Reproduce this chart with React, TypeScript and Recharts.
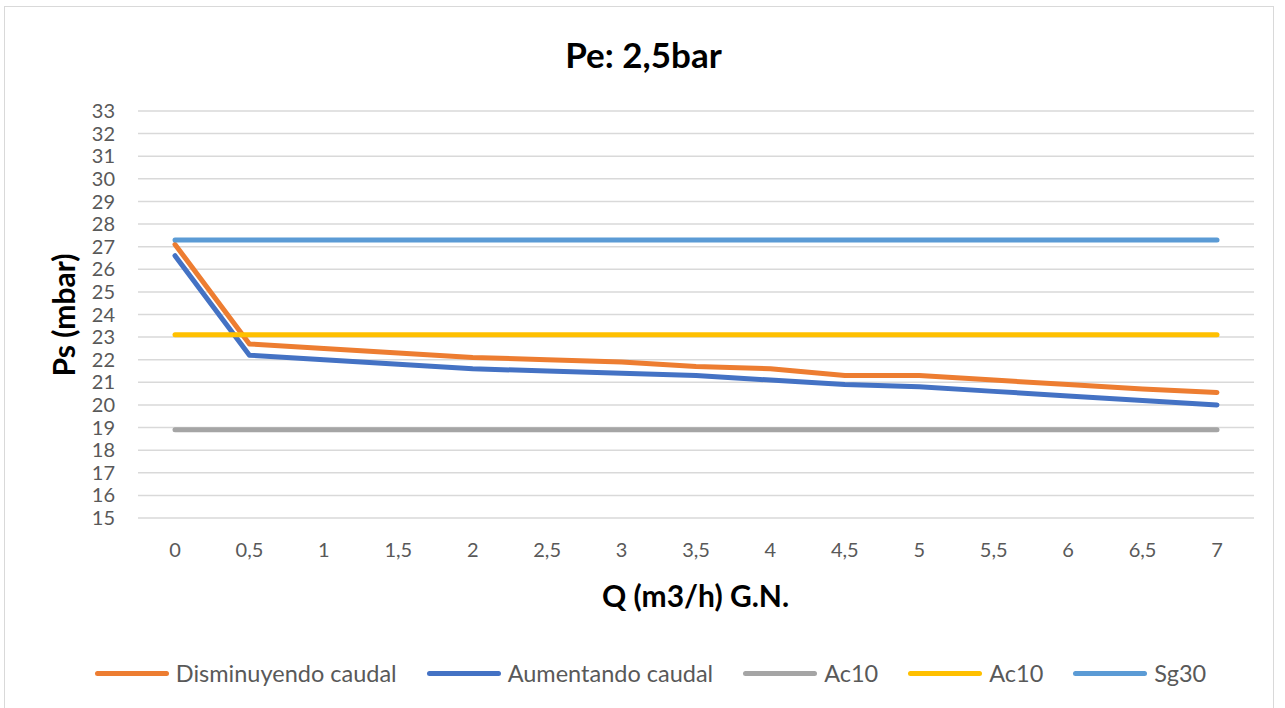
import React from 'react';
import { LineChart, Line, XAxis, YAxis, CartesianGrid } from 'recharts';

const caudales = ['0', '0,5', '1', '1,5', '2', '2,5', '3', '3,5', '4', '4,5', '5', '5,5', '6', '6,5', '7'];
const disminuyendo = [27.1, 22.7, 22.5, 22.3, 22.1, 22.0, 21.9, 21.7, 21.6, 21.3, 21.3, 21.1, 20.9, 20.7, 20.55];
const aumentando = [26.6, 22.2, 22.0, 21.8, 21.6, 21.5, 21.4, 21.3, 21.1, 20.9, 20.8, 20.6, 20.4, 20.2, 20.0];
const ac10Bajo = 18.9;
const ac10Alto = 23.1;
const sg30 = 27.3;
const yTicks = [15, 16, 17, 18, 19, 20, 21, 22, 23, 24, 25, 26, 27, 28, 29, 30, 31, 32, 33];

const data = caudales.map((q, i) => ({
  q,
  dis: disminuyendo[i],
  aum: aumentando[i],
  acBajo: ac10Bajo,
  acAlto: ac10Alto,
  sg: sg30,
}));

// series in legend order
const series = [
  { key: 'dis', name: 'Disminuyendo caudal', color: '#ED7D31' },
  { key: 'aum', name: 'Aumentando caudal', color: '#4472C4' },
  { key: 'acBajo', name: 'Ac10', color: '#A5A5A5' },
  { key: 'acAlto', name: 'Ac10', color: '#FFC000' },
  { key: 'sg', name: 'Sg30', color: '#5B9BD5' },
];

const FONT = 'Lato, "Open Sans", sans-serif';

const LegendRow = () => (
  <div style={{ position: 'absolute', left: 0, width: 1285, top: 657, height: 32, display: 'flex', justifyContent: 'center', alignItems: 'center', fontSize: 23.5, color: '#595959', paddingLeft: 16, boxSizing: 'border-box' }}>
    {series.map((s, i) => (
      <div key={s.key} style={{ display: 'flex', alignItems: 'center', marginRight: i < series.length - 1 ? 30 : 0 }}>
        <span style={{ display: 'inline-block', width: 74, height: 5, borderRadius: 3, background: s.color, marginRight: 7 }} />
        <span>{s.name}</span>
      </div>
    ))}
  </div>
);

export default function App() {
  return (
    <div style={{ position: 'absolute', left: 0, top: 0, width: 1285, height: 708, background: '#fff', overflow: 'hidden', fontFamily: FONT }}>
      <div style={{ position: 'absolute', left: 4, top: 6, width: 1268, height: 740, border: '1px solid #d9d9d9' }} />
      <div style={{ position: 'absolute', left: 0, width: 1285, top: 33, paddingLeft: 2, boxSizing: 'border-box', textAlign: 'center', fontSize: 35, fontWeight: 700, color: '#000' }}>
        Pe: 2,5bar
      </div>
      <div style={{ position: 'absolute', left: 0, width: 1285, top: 577, paddingLeft: 106, boxSizing: 'border-box', textAlign: 'center', fontSize: 30, fontWeight: 700, color: '#000' }}>
        Q (m3/h) G.N.
      </div>
      <div style={{ position: 'absolute', left: 63, top: 315, transform: 'translate(-50%, -50%) rotate(-90deg)', whiteSpace: 'nowrap', fontSize: 30, fontWeight: 700, color: '#000' }}>
        Ps (mbar)
      </div>
      <LineChart width={1285} height={708} data={data} margin={{ top: 111, right: 31, left: 0, bottom: 150 }} style={{ position: 'absolute', left: 0, top: 0 }}>
        <CartesianGrid vertical={false} stroke="#d9d9d9" strokeWidth={1.5} />
        <XAxis
          dataKey="q"
          axisLine={false}
          tickLine={false}
          padding={{ left: 37, right: 37 }}
          tick={{ fill: '#595959', fontSize: 20, fontFamily: FONT }}
          tickMargin={19}
          height={40}
          interval={0}
        />
        <YAxis
          domain={[15, 33]}
          ticks={yTicks}
          interval={0}
          axisLine={false}
          tickLine={false}
          width={138}
          tickMargin={17}
          tick={{ fill: '#595959', fontSize: 20, fontFamily: FONT }}
        />
        {series.map((s) => (
          <Line
            key={s.key}
            dataKey={s.key}
            name={s.name}
            stroke={s.color}
            strokeWidth={5}
            dot={false}
            strokeLinecap="round"
            strokeLinejoin="round"
            isAnimationActive={false}
          />
        ))}
      </LineChart>
      <LegendRow />
    </div>
  );
}
